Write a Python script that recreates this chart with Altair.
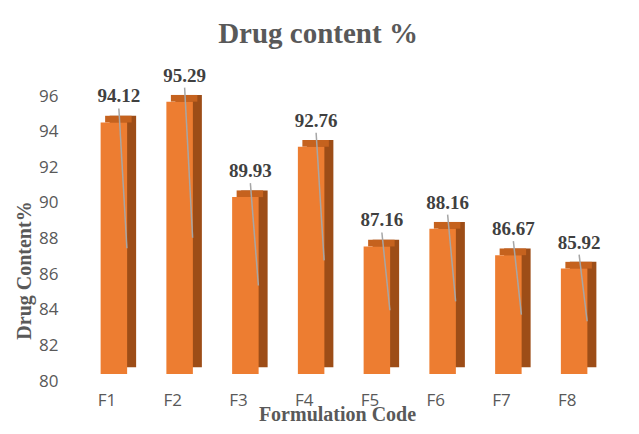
import altair as alt
import pandas as pd

categories = ["F1", "F2", "F3", "F4", "F5", "F6", "F7", "F8"]
values = [94.12, 95.29, 89.93, 92.76, 87.16, 88.16, 86.67, 85.92]
y_ticks = [80, 82, 84, 86, 88, 90, 92, 94, 96]

df = pd.DataFrame({"cat": categories, "value": values})

SERIF = "Liberation Serif"
SANS = "Open Sans"
W = 26.5

x_axis = alt.Axis(title="Formulation Code", labelAngle=0, ticks=False, domain=False,
                  labelFont=SANS, labelFontSize=17, labelColor="#595959",
                  labelPadding=11, titleFont=SERIF, titleFontSize=20,
                  titleFontWeight="bold", titleColor="#595959",
                  titleBaseline="alphabetic", titleY=39)
x_scale = alt.Scale(paddingInner=0, paddingOuter=0)
x_enc = alt.X("cat:N", sort=categories, scale=x_scale, axis=x_axis)
y_scale = alt.Scale(domain=[80, 96], zero=False, nice=False)
y_axis = alt.Axis(title="Drug Content%", values=y_ticks, ticks=False, domain=False,
                  grid=False, labelFont=SANS, labelFontSize=17,
                  labelColor="#595959", labelPadding=16, labelOverlap=False,
                  tickCount=9,
                  titleFont=SERIF, titleFontSize=20, titleFontWeight="bold",
                  titleColor="#595959", titleBaseline="alphabetic",
                  titleAngle=270, titleX=-44, titleY=174)
y_enc = alt.Y("value:Q", scale=y_scale, axis=y_axis)

base = alt.Chart(df).transform_calculate(mid="(80 + datum.value) / 2")

side = base.mark_bar(width=W, xOffset=16, yOffset=-13.7, y2Offset=-13.7,
                     color="#9D4D17").encode(x=x_enc, y=y_enc, y2=alt.datum(80))
top = base.mark_bar(width=W, xOffset=11.5, yOffset=-13.7, y2Offset=-7,
                    color="#C5621E").encode(x=x_enc, y=y_enc, y2=alt.Y2("value:Q"))
front = base.mark_bar(width=W, xOffset=7, yOffset=-7, y2Offset=-7,
                      color="#ED7D31").encode(x=x_enc, y=y_enc, y2=alt.datum(80))
leader = base.mark_rule(xOffset=12, x2Offset=20, yOffset=-21, y2Offset=-7,
                        color="#A6A6A6", strokeWidth=1.5).encode(
    x=alt.X("cat:N", sort=categories, scale=x_scale, axis=x_axis, bandPosition=0.5),
    x2=alt.X2("cat:N", bandPosition=0.5),
    y=y_enc,
    y2=alt.Y2("mid:Q"))
labels = base.mark_text(dx=12, dy=-33, font=SERIF, fontSize=19, fontWeight="bold",
                        color="#404040", baseline="middle").encode(
    x=x_enc, y=y_enc,
    text=alt.Text("value:Q", format=".2f"))

chart = alt.layer(side, top, front, leader, labels).properties(
    width=526, height=285,
    padding={"left": 66, "top": 88, "right": 31, "bottom": 45},
    autosize="none",
    title=alt.TitleParams("Drug content %", font=SERIF, fontSize=29, fontWeight="bold",
                          color="#595959", anchor="middle", baseline="alphabetic",
                          frame="group", offset=22, dx=-19, dy=27),
).configure(background="white").configure_view(strokeWidth=0).configure_axisY(
    labelOverlap=False)

chart.save("out.html", embed_options={"renderer": "svg", "actions": False})
